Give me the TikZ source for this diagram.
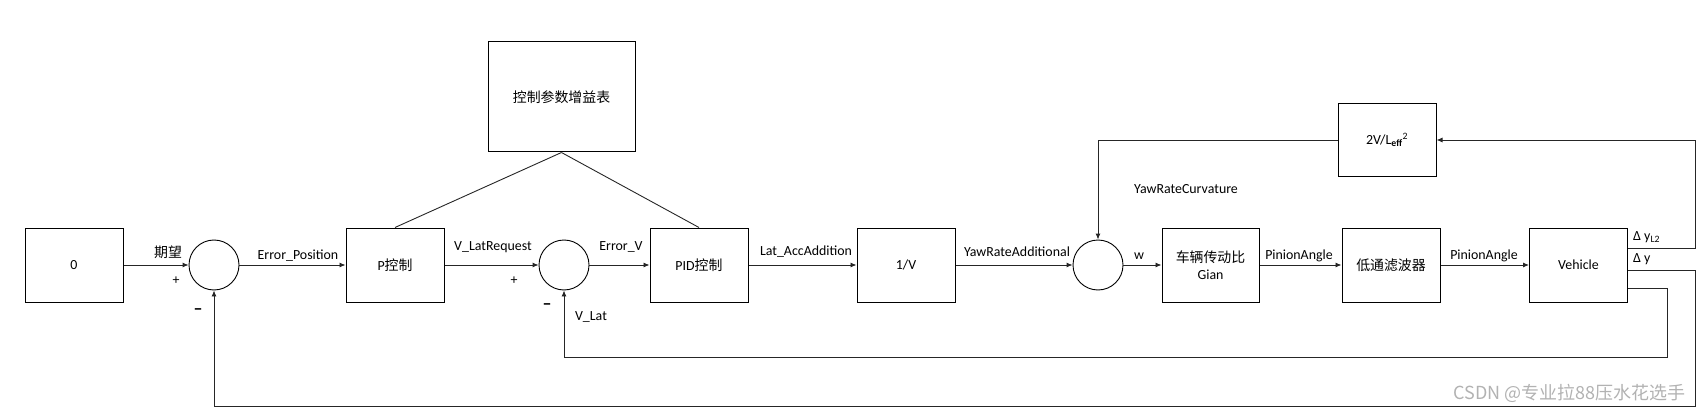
\documentclass[tikz,border=0pt]{standalone}
\usepackage{fontspec}
\setmainfont{Carlito}
\newfontfamily\cjk{Noto Sans CJK SC}
\usetikzlibrary{arrows.meta}
\begin{document}
\begin{tikzpicture}[x=1pt,y=-1pt,
  font=\fontsize{13.9}{16}\selectfont,
  blk/.style={draw, line width=1pt, minimum width=98pt, minimum height=74pt, inner sep=0pt, align=center},
  sumc/.style={draw, circle, line width=0.9pt, minimum size=50pt, inner sep=0pt},
  sig/.style={-{Latex[length=6pt,width=5pt]}, line width=0.9pt, draw=black!85},
  wire/.style={line width=0.9pt, draw=black!85},
  lbl/.style={inner sep=0pt},
  minus/.style={inner sep=0pt, font=\bfseries\fontsize{18}{18}\selectfont}]
\useasboundingbox (0,0) rectangle (1702,414);

% blocks
\node[blk] (z) at (74,265) {0};
\node[sumc] (s1) at (214,265) {};
\node[blk] (p) at (395,265) {P{\cjk 控制}};
\node[blk, minimum width=147pt, minimum height=110pt] (tab) at (561.5,97) {{\cjk 控制参数增益表}};
\node[sumc] (s2) at (564,265) {};
\node[blk] (pid) at (699,265) {PID{\cjk 控制}};
\node[blk] (iv) at (906,265) {1/V};
\node[sumc] (s3) at (1098,265) {};
\node[blk, minimum width=97pt] (gr) at (1210.5,265) {{\cjk 车辆传动比}\\[1pt]Gian};
\node[blk] (lpf) at (1391,265) {{\cjk 低通滤波器}};
\node[blk] (veh) at (1578.5,265) {Vehicle};
\node[blk, minimum height=73pt] (k) at (1387,140) {2V/L\textsubscript{\bfseries eff}\textsuperscript{2}};

% vehicle output points
\coordinate (o1) at ([yshift=16.5pt]veh.east);
\coordinate (o2) at ([yshift=-5.5pt]veh.east);
\coordinate (o3) at ([yshift=-23pt]veh.east);

% forward path
\draw[sig] (z) -- (s1);
\draw[sig] (s1) -- (p);
\draw[sig] (p) -- (s2);
\draw[sig] (s2) -- (pid);
\draw[sig] (pid) -- (iv);
\draw[sig] (iv) -- (s3);
\draw[sig] (s3) -- (gr);
\draw[sig] (gr) -- (lpf);
\draw[sig] (lpf) -- (veh);

% feedback paths
\draw[sig] (o1) -- ++(67.5,0) |- (k.east);
\draw[sig] (k.west) -| (s3.north);
\draw[sig] (o2) -- ++(67.5,0) -- ++(0,135.5) -| (s1.south);
\draw[sig] (o3) -- ++(39.5,0) -- ++(0,69) -| (s2.south);

% gain table links
\draw[wire] (tab.south) -- (p.north);
\draw[wire] (tab.south) -- (pid.north);

% labels
\node[lbl] (l1) at (168,252) {{\cjk 期望}};
\node[lbl] (l2) at (176,281) {+};
\node[minus] (l3) at (198,312) {–};
\node[lbl] (l4) at (298,256) {Error\_Position};
\node[lbl] (l5) at (493,247) {V\_LatRequest};
\node[lbl] (l6) at (514,281) {+};
\node[minus] (l7) at (547,307) {–};
\node[lbl] (l8) at (621,247) {Error\_V};
\node[lbl] (l9) at (591,317) {V\_Lat};
\node[lbl] (l10) at (806,252) {Lat\_AccAddition};
\node[lbl] (l11) at (1017,252) {YawRateAdditional};
\node[lbl] (l12) at (1139,256) {w};
\node[lbl] (l13) at (1186,189) {YawRateCurvature};
\node[lbl] (l14) at (1299,256) {PinionAngle};
\node[lbl] (l15) at (1484,256) {PinionAngle};
\node[lbl, anchor=west] (l16) at (1633,237) {Δ y\textsubscript{L2}};
\node[lbl, anchor=west] (l17) at (1633,259) {Δ y};

% watermark
\node[lbl, anchor=east, text=black!30, font=\cjk\fontsize{18}{20}\selectfont] (wm) at (1686,393) {CSDN @专业拉88压水花选手};
\end{tikzpicture}
\end{document}
